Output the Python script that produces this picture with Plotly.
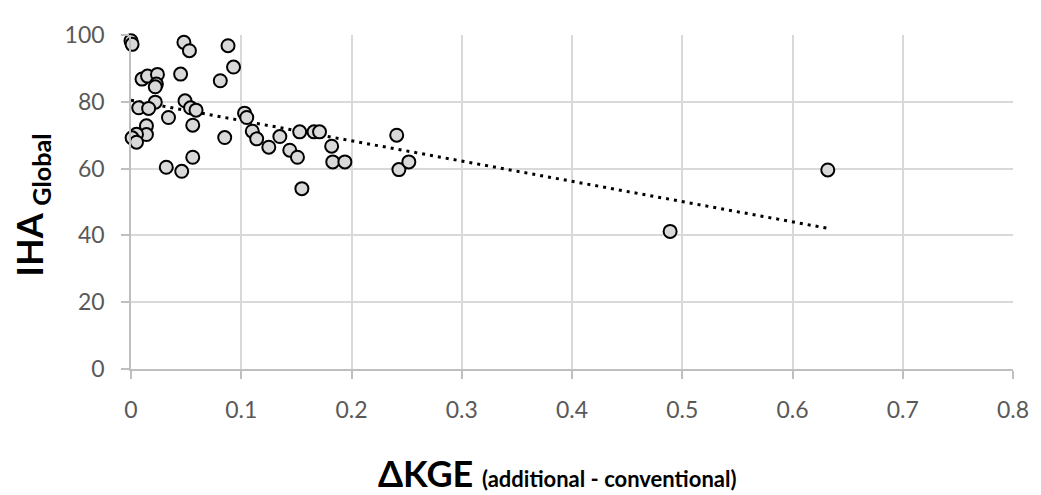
import numpy as np
import plotly.graph_objects as go

# Data
dkge = [0.000, 0.001, 0.048, 0.053, 0.088, 0.093, 0.081, 0.045, 0.010, 0.015,
        0.024, 0.023, 0.022, 0.022, 0.007, 0.016, 0.049, 0.054, 0.059, 0.034,
        0.056, 0.014, 0.014, 0.005, 0.001, 0.005, 0.085, 0.032, 0.046, 0.056,
        0.103, 0.105, 0.110, 0.114, 0.125, 0.135, 0.144, 0.151, 0.153, 0.166,
        0.171, 0.182, 0.183, 0.155, 0.194, 0.241, 0.243, 0.252, 0.489, 0.632]
iha = [98.3, 97.2, 97.8, 95.3, 96.8, 90.4, 86.3, 88.3, 86.8, 87.7,
       88.2, 85.3, 84.5, 79.9, 78.2, 78.0, 80.3, 78.2, 77.5, 75.3,
       73.0, 72.8, 70.2, 70.3, 69.2, 67.9, 69.3, 60.4, 59.2, 63.4,
       76.6, 75.3, 71.2, 68.9, 66.4, 69.6, 65.5, 63.4, 71.0, 71.0,
       71.0, 66.7, 62.0, 54.0, 62.0, 70.0, 59.7, 62.0, 41.2, 59.6]

x_ticks = [0, 0.1, 0.2, 0.3, 0.4, 0.5, 0.6, 0.7, 0.8]
x_tick_labels = ["0", "0.1", "0.2", "0.3", "0.4", "0.5", "0.6", "0.7", "0.8"]
y_ticks = [0, 20, 40, 60, 80, 100]
y_tick_labels = ["0", "20", "40", "60", "80", "100"]

# Linear trend line (least squares)
slope, intercept = np.polyfit(dkge, iha, 1)
trend_x = np.array([min(dkge), max(dkge)])
trend_y = intercept + slope * trend_x

fig = go.Figure()
fig.add_trace(go.Scatter(
    x=trend_x, y=trend_y, mode="lines",
    line=dict(color="black", width=3, dash="3px,5px"),
    showlegend=False, hoverinfo="skip", cliponaxis=False))
fig.add_trace(go.Scatter(
    x=dkge, y=iha, mode="markers", cliponaxis=False,
    marker=dict(size=13, color="#d9d9d9", line=dict(color="black", width=2)),
    showlegend=False))

tick_font = dict(family="Lato, Open Sans, sans-serif", size=23, color="#595959")

# The page body has an 8px default margin, so the figure is sized to fill
# the remaining 1033x487 area of the 1041x495 window.
fig.update_layout(
    width=1033, height=487,
    margin=dict(l=123, r=22, t=15, b=126),
    paper_bgcolor="white", plot_bgcolor="white",
    xaxis=dict(range=[0, 0.8], tickvals=x_ticks, ticktext=x_tick_labels,
               showgrid=True, gridcolor="#d9d9d9", gridwidth=1.5,
               showline=True, linecolor="#bfbfbf", linewidth=1.5,
               ticks="outside", ticklen=8, tickcolor="#bfbfbf", tickwidth=1.5,
               zeroline=False, tickfont=tick_font, ticklabelstandoff=12),
    yaxis=dict(range=[0, 100], tickvals=y_ticks, ticktext=y_tick_labels,
               showgrid=True, gridcolor="#d9d9d9", gridwidth=1.5,
               showline=True, linecolor="#bfbfbf", linewidth=1.5,
               ticks="outside", ticklen=8, tickcolor="#bfbfbf", tickwidth=1.5,
               zeroline=False, tickfont=tick_font, ticklabelstandoff=12),
    annotations=[
        dict(text="<b>ΔKGE <span style='font-size:22px'>(additional - conventional)</span></b>",
             xref="paper", yref="paper", x=0.483, y=-0.31, xanchor="center", yanchor="middle",
             showarrow=False, font=dict(family="Lato, sans-serif", size=36, color="black")),
        dict(text="<b>IHA <sub>Global</sub></b>",
             xref="paper", yref="paper", x=-0.113, y=0.49, xanchor="center", yanchor="middle",
             textangle=-90, showarrow=False,
             font=dict(family="Lato, sans-serif", size=36, color="black")),
    ],
)

fig.write_html("out.html")
